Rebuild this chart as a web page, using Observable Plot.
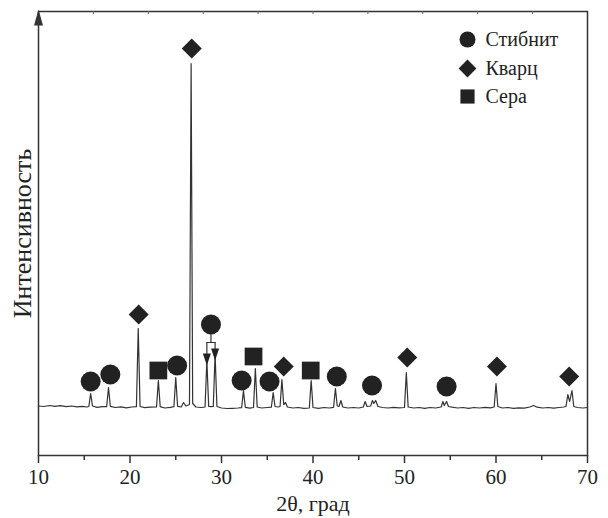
<!DOCTYPE html>
<html>
<head>
<meta charset="utf-8">
<script src="https://cdn.jsdelivr.net/npm/d3@7"></script>
<script src="https://cdn.jsdelivr.net/npm/@observablehq/plot@0.6"></script>
<style>
  html, body { margin: 0; padding: 0; background: #fff; }
  #chart svg, #chart svg text {
    font-family: "Liberation Serif", "Times New Roman", "DejaVu Serif", serif !important;
  }
</style>
</head>
<body>
<div id="chart"></div>
<script>
// Diffraction profile: [2θ, intensity above background], arbitrary units
const profile = [
  [10.0, 1.5], [10.6, 1.0], [11.2, 2.0], [11.8, 1.2], [12.4, 1.8], [13.0, 0.8], [13.6, 1.5], [14.2, 0.6], [14.8, 1.2], [15.3, 0.5],
  [15.5, 1.0], [15.7, 14], [15.9, 1.5], [16.4, 0.2], [17.0, 0.8],
  [17.45, 0.8], [17.65, 20], [17.85, 1.2], [18.4, 0.0], [19.0, 0.6], [19.6, -0.4], [20.2, 0.5],
  [20.7, 0.8], [20.9, 79], [21.1, 1.0], [21.6, -0.2], [22.2, 0.4],
  [22.9, 0.6], [23.1, 27], [23.3, 0.8], [23.8, -0.5], [24.4, 0.2],
  [24.8, 0.8], [25.0, 30], [25.2, 1.2], [25.6, 0.5], [25.85, 5], [26.1, 1.5],
  [26.5, 3], [26.68, 344], [26.85, 4], [27.2, 0.5], [27.8, 0.0],
  [28.2, 0.5], [28.4, 47], [28.6, 1.0], [28.95, 0.8],
  [29.1, 1.0], [29.3, 53], [29.5, 1.0], [30.0, -0.5], [30.6, -1.0], [31.2, -0.8], [31.8, -0.5],
  [32.2, -0.2], [32.4, 17], [32.6, 0.2], [33.1, -0.6],
  [33.5, 0], [33.7, 39], [33.9, 0.5], [34.4, -0.5], [35.0, 0],
  [35.45, 0.3], [35.65, 15], [35.85, 1.0], [36.2, 0.5],
  [36.4, 1], [36.6, 28], [36.8, 3], [37.0, 5], [37.2, 0.5], [37.8, -0.5], [38.4, 0], [39.0, -0.8],
  [39.6, -0.5], [39.8, 27], [40.0, 0], [40.6, -0.8], [41.2, 0], [41.8, -0.5],
  [42.25, 0.2], [42.45, 19], [42.65, 1.5], [42.85, 1.2], [43.05, 7], [43.25, 0.5], [43.8, -0.5], [44.4, 0], [45.0, -0.5],
  [45.5, 0.5], [45.7, 6], [45.9, 1], [46.3, 1.5], [46.5, 7], [46.65, 4], [46.85, 7], [47.1, 1], [47.6, 0], [48.2, -0.5], [48.8, 0.2], [49.4, -0.4],
  [50.0, 0], [50.2, 35], [50.4, 0.5], [51.0, -0.5], [51.6, 0], [52.2, -0.8], [52.8, 0], [53.4, -0.5],
  [54.0, 0.5], [54.2, 6], [54.35, 2], [54.6, 6], [54.8, 1], [55.2, 0.3], [55.8, -0.5], [56.4, 0], [57.0, -0.8], [57.6, 0], [58.2, -0.5], [58.8, 0.2], [59.4, -0.3],
  [59.8, 0.5], [60.0, 24], [60.2, 1], [60.7, -0.5], [61.3, 0], [61.9, -0.8], [62.5, -0.3], [63.1, -0.6], [63.7, 0.5], [64.1, 2], [64.5, 0.3], [65.1, -0.5], [65.7, 0], [66.3, -0.6], [66.9, 0], [67.4, 0.5],
  [67.65, 1], [67.85, 13], [68.05, 6], [68.3, 17], [68.5, 1], [68.9, 0], [69.5, -0.5], [70.0, 0]
];

// Phase markers placed above their reflections: [2θ, height]
const stibnite = [[15.7, 26], [17.85, 33], [25.15, 42], [28.85, 83], [32.2, 27], [35.25, 26], [42.6, 31], [46.45, 22], [54.6, 21]];
const quartz = [[20.95, 93], [26.75, 359], [36.8, 41], [50.3, 50], [60.1, 41], [68.0, 31]];
const sulfur = [[23.1, 37], [33.5, 51], [39.75, 37]];

// Bracket joining one stibnite marker to the two reflections at 28.4° and 29.3°
const bracketStem = [[28.85, 73], [28.85, 65]];
const bracketBar = [[28.4, 65], [29.3, 65]];
const bracketLegs = [
  [[28.4, 65], [28.4, 54]],
  [[29.3, 65], [29.3, 59]]
];
const bracketHeads = [[28.4, 48], [29.3, 53]];

const phaseNames = ["Стибнит", "Кварц", "Сера"];
const xTicks = [10, 20, 30, 40, 50, 60, 70];
const xMinorTicks = [15, 25, 35, 45, 55, 65];
const topTicks = [16, 22, 28, 34, 40, 46, 52, 58, 64];
const xDomain = [10, 70];
const yDomain = [-48, 396];

const ink = "#222";
const lineInk = "#333";
const serif = "'Liberation Serif', 'Times New Roman', 'DejaVu Serif', serif";

// Filled arrowheads (custom d3-style symbols)
const arrowDown = {
  draw(ctx, size) {
    const s = Math.sqrt(size / Math.PI);
    ctx.moveTo(-0.67 * s, -s);
    ctx.lineTo(0.67 * s, -s);
    ctx.lineTo(0, s);
    ctx.closePath();
  }
};
const arrowUp = {
  draw(ctx, size) {
    const s = Math.sqrt(size / Math.PI);
    ctx.moveTo(-0.56 * s, s);
    ctx.lineTo(0.56 * s, s);
    ctx.lineTo(0, -s);
    ctx.closePath();
  }
};

const chart = Plot.plot({
  width: 608,
  height: 518,
  marginLeft: 38,
  marginRight: 21,
  marginTop: 11,
  marginBottom: 63,
  style: {
    fontFamily: serif,
    fontSize: "21px",
    color: ink,
    background: "#fff"
  },
  x: { domain: xDomain },
  y: { domain: yDomain, axis: null },
  marks: [
    // bottom axis: labelled major ticks and shorter minor ticks
    Plot.axisX({ ticks: xTicks, tickSize: 8, tickPadding: 6, fontSize: 21, fontFamily: serif, label: null, stroke: lineInk, strokeWidth: 1.5 }),
    Plot.axisX({ ticks: xMinorTicks, tickSize: 5, tickFormat: () => "", label: null, stroke: lineInk, strokeWidth: 1.5 }),
    Plot.text(["2θ, град"], { frameAnchor: "bottom", lineAnchor: "middle", textAnchor: "middle", dy: 48, fontSize: 22, fontFamily: serif, fill: ink }),
    Plot.text(["Интенсивность"], { frameAnchor: "left", lineAnchor: "middle", textAnchor: "middle", rotate: -90, dx: -16, fontSize: 26, fontFamily: serif, fill: ink }),
    Plot.frame({ stroke: lineInk, strokeWidth: 1.5 }),
    Plot.ruleX(topTicks, { x: d => d, y1: yDomain[1], y2: yDomain[1] - 3, stroke: "#666" }),
    Plot.dot([xDomain[0]], { x: d => d, y: () => yDomain[1], dy: 6, r: 8, symbol: arrowUp, fill: lineInk, stroke: "none" }),

    // diffraction pattern
    Plot.line(profile, { x: d => d[0], y: d => d[1], stroke: lineInk, strokeWidth: 1.2, strokeLinejoin: "round" }),

    // bracket pointing to the split stibnite reflection
    Plot.line(bracketStem, { x: d => d[0], y: d => d[1], stroke: lineInk, strokeWidth: 1.2 }),
    Plot.line(bracketBar, { x: d => d[0], y: d => d[1], stroke: lineInk, strokeWidth: 1.2 }),
    ...bracketLegs.map(leg => Plot.line(leg, { x: d => d[0], y: d => d[1], stroke: lineInk, strokeWidth: 1.2 })),
    Plot.dot(bracketHeads, { x: d => d[0], y: d => d[1], r: 6, symbol: arrowDown, fill: ink, stroke: "none" }),

    // phase markers
    Plot.dot(stibnite, { x: d => d[0], y: d => d[1], r: 10, symbol: "circle", fill: ink, stroke: "none" }),
    Plot.dot(quartz, { x: d => d[0], y: d => d[1], r: 9, symbol: "diamond2", fill: ink, stroke: "none" }),
    Plot.dot(sulfur, { x: d => d[0], y: d => d[1], r: 10, symbol: "square", fill: ink, stroke: "none" }),

    // legend
    Plot.dot([phaseNames[0]], { frameAnchor: "top-left", dx: 429, dy: 28, r: 8, symbol: "circle", fill: ink }),
    Plot.dot([phaseNames[1]], { frameAnchor: "top-left", dx: 429, dy: 57, r: 8, symbol: "diamond2", fill: ink }),
    Plot.dot([phaseNames[2]], { frameAnchor: "top-left", dx: 429, dy: 85, r: 8, symbol: "square", fill: ink }),
    Plot.text([phaseNames[0]], { text: d => d, frameAnchor: "top-left", lineAnchor: "middle", dx: 447, dy: 28, textAnchor: "start", fontSize: 20, fontFamily: serif, fill: ink }),
    Plot.text([phaseNames[1]], { text: d => d, frameAnchor: "top-left", lineAnchor: "middle", dx: 447, dy: 57, textAnchor: "start", fontSize: 20, fontFamily: serif, fill: ink }),
    Plot.text([phaseNames[2]], { text: d => d, frameAnchor: "top-left", lineAnchor: "middle", dx: 447, dy: 85, textAnchor: "start", fontSize: 20, fontFamily: serif, fill: ink })
  ]
});

document.getElementById("chart").append(chart);
</script>
</body>
</html>
